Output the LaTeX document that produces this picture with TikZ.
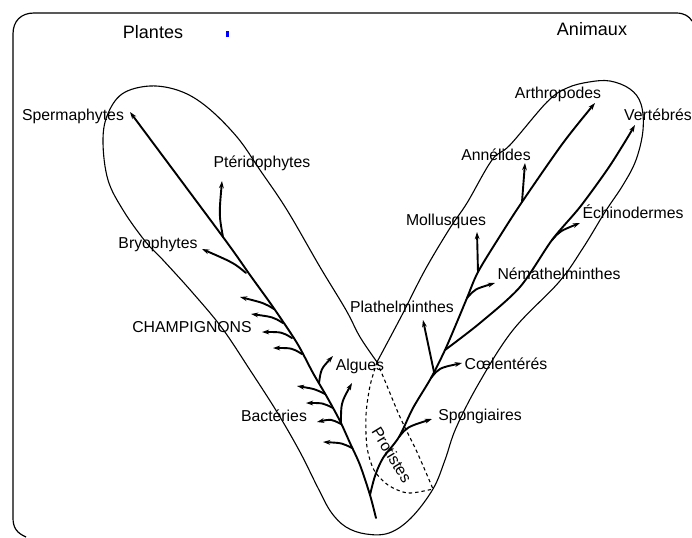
\documentclass[tikz,border=0pt]{standalone}
\usepackage{fontspec}
\setmainfont{Liberation Sans}
\usetikzlibrary{arrows.meta}

\begin{document}
\begin{tikzpicture}[
  x=0.5pt, y=-0.5pt,
  boxline/.style={line width=0.6pt},
  envelope/.style={line width=0.55pt, line join=round},
  protistline/.style={envelope, dash pattern=on 1.7pt off 1.5pt},
  stem/.style={line width=0.95pt, line cap=round, -{Stealth[length=3.6pt,width=2.4pt]}},
  taxon/.style={font=\fontsize{7.9}{9}\selectfont, inner sep=0pt},
  kingdom/.style={font=\fontsize{9}{11}\selectfont, inner sep=0pt}
]
\useasboundingbox (0,0) rectangle (692,537);

% page frame
\draw[boxline] (26,537) .. controls (17,533) and (13,528) .. (13,518) -- (13,34)
  .. controls (13,21) and (21,13) .. (34,13) -- (676,13)
  .. controls (684,13) and (689,16) .. (692,21);
\fill[blue] (226,31) rectangle (229,37);

% kingdoms
\node[kingdom] (plantes) at (153,32) {Plantes};
\node[kingdom] (animaux) at (592,29) {Animaux};

% envelopes of the two kingdoms
\coordinate (cross) at (377,362);
\coordinate (meet) at (433,489);
\draw[envelope] plot[smooth, tension=0.6] coordinates {(cross) (360,337) (346,310)
  (320,267) (287,210) (260,170) (237,137) (207,107) (180,91) (150,86) (122,94)
  (107,116) (103,143) (108,180) (123,210) (145,241) (163,260) (192,292) (222,328)
  (250,370) (277,412) (300,452) (318,488) (331,512) (346,527) (366,534) (389,533)
  (411,518) (meet) (445,460) (456,428) (479,383) (513,330) (559,282) (583,248)
  (605,212) (623,185) (636,160) (643,130) (641,104) (630,89) (610,81) (589,82)
  (567,88) (547,102) (510,145) (492,160) (467,203) (450,228) (425,270) (402,315)
  (cross)};
\draw[protistline] plot[smooth] coordinates {(cross) (385,381) (400,417) (417,452) (meet)};
\draw[protistline] plot[smooth] coordinates {(cross) (370,386) (366,415) (367,447)
  (374,470) (388,485) (408,493) (meet)};

% labels
\node[taxon] (spermaphytes) at (73,116) {Spermaphytes};
\node[taxon] (pteridophytes) at (262,163) {Ptéridophytes};
\node[taxon] (bryophytes) at (158,244) {Bryophytes};
\node[taxon] (champignons) at (192,327) {CHAMPIGNONS};
\node[taxon] (bacteries) at (274,416) {Bactéries};
\node[taxon] (algues) at (360,366) {Algues};
\node[taxon, rotate=-58.6] (protistes) at (392,455) {Protistes};
\node[taxon] (spongiaires) at (480,416) {Spongiaires};
\node[taxon] (coelenteres) at (506,364) {Cœlentérés};
\node[taxon] (plathelminthes) at (402,307) {Plathelminthes};
\node[taxon] (nemathelminthes) at (559,274) {Némathelminthes};
\node[taxon] (mollusques) at (446,221) {Mollusques};
\node[taxon] (annelides) at (496,155) {Annélides};
\node[taxon] (arthropodes) at (558,94) {Arthropodes};
\node[taxon] (vertebres) at (658,115) {Vertébrés};
\node[taxon] (echinodermes) at (633,212) {Échinodermes};

% plant tree
\coordinate (base) at (376,518);
\coordinate (fork) at (370,495);
\coordinate (pterj) at (223,237);
\coordinate (spermt) at (130,112);
\coordinate (ptert) at (222,181);
\coordinate (bryoj) at (246,273);
\coordinate (bryot) at (202,249);
\coordinate (algj) at (319,383);
\coordinate (algt) at (333,356);
\coordinate (algbj) at (341,423);
\coordinate (algbt) at (352,383);
\draw[stem] plot[smooth] coordinates {(base) (fork) (360,465) (350,443) (340,421)
  (327,397) (313,373) (297,343) (273,307) (250,275) (pterj) (spermt)};
\draw[stem] (pterj) .. controls +(-4,-22) .. (ptert);
\draw[stem] (bryoj) .. controls +(-12,-10) .. (bryot);
\draw[stem] (algj) .. controls +(2,-14) .. (algt);
\draw[stem] (algbj) .. controls +(0,-20) .. (algbt);
\foreach \i/\jx/\jy/\tx/\ty in {1/274/309/240/297, 2/283/323/251/314,
    3/292/338/262/332, 4/302/354/273/348} {
  \coordinate (champj\i) at (\jx,\jy);
  \coordinate (champt\i) at (\tx,\ty);
  \draw[stem] (champj\i) .. controls +(-10,-6) .. (champt\i);
}
\foreach \i/\jx/\jy/\tx/\ty in {1/325/394/297/386, 2/333/408/306/403,
    3/341/424/317/422, 4/352/448/323/442} {
  \coordinate (bactj\i) at (\jx,\jy);
  \coordinate (bactt\i) at (\tx,\ty);
  \draw[stem] (bactj\i) .. controls +(-10,-5) .. (bactt\i);
}

% animal tree
\coordinate (spongj) at (399,437);
\coordinate (spongt) at (432,419);
\coordinate (coelj) at (431,378);
\coordinate (coelt) at (462,363);
\coordinate (platj) at (434,372);
\coordinate (platt) at (423,320);
\coordinate (deutj) at (445,350);
\coordinate (nemaj) at (467,298);
\coordinate (nemat) at (495,283);
\coordinate (mollj) at (478,272);
\coordinate (mollt) at (477,232);
\coordinate (annej) at (522,202);
\coordinate (annet) at (525,163);
\coordinate (arthrot) at (595,103);
\coordinate (echij) at (552,240);
\coordinate (echit) at (580,223);
\coordinate (vertt) at (635,125);
\draw[stem] plot[smooth] coordinates {(fork) (375,476) (383,458) (spongj) (413,408)
  (coelj) (deutj) (457,322) (nemaj) (mollj) (500,236) (annej) (563,143) (arthrot)};
\draw[stem] plot[smooth] coordinates {(deutj) (480,323) (520,287) (echij) (580,207)
  (607,170) (623,145) (vertt)};
\draw[stem] (spongj) .. controls +(8,-10) .. (spongt);
\draw[stem] (coelj) .. controls +(8,-10) .. (coelt);
\draw[stem] (platj) -- (platt);
\draw[stem] (nemaj) .. controls +(8,-9) .. (nemat);
\draw[stem] (mollj) -- (mollt);
\draw[stem] (annej) -- (annet);
\draw[stem] (echij) .. controls +(8,-9) .. (echit);
\end{tikzpicture}
\end{document}
